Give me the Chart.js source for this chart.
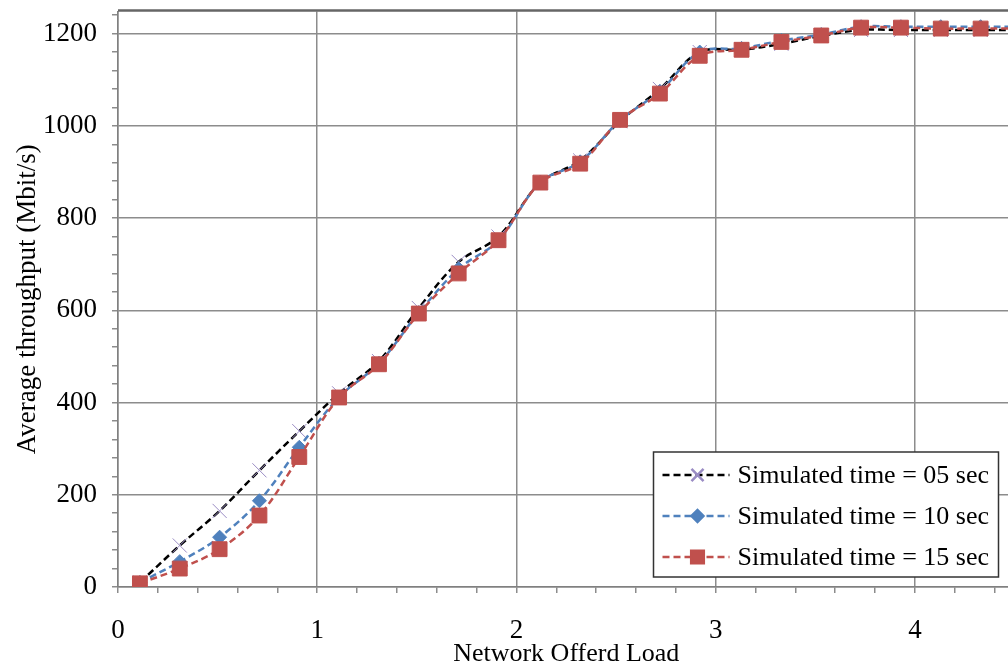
<!DOCTYPE html>
<html>
<head>
<meta charset="utf-8">
<script src="https://cdn.jsdelivr.net/npm/chart.js@4.4.0/dist/chart.umd.min.js"></script>
<style>
html, body { margin: 0; padding: 0; background: #fff; overflow: hidden; }
#wrap { width: 1026px; height: 670px; }
</style>
</head>
<body>
<div id="wrap"><canvas id="chart" width="1026" height="670"></canvas></div>
<script>
// data
const loads = [0.11, 0.31, 0.51, 0.71, 0.91, 1.11, 1.31, 1.51, 1.71, 1.91, 2.12, 2.32, 2.52, 2.72, 2.92, 3.13, 3.33, 3.53, 3.73, 3.93, 4.13, 4.33, 4.53];
const sim05 = [10, 90, 165, 253, 338, 420, 490, 605, 705, 760, 877, 925, 1010, 1080, 1160, 1165, 1178, 1195, 1208, 1208, 1208, 1208, 1208];
const sim10 = [10, 55, 108, 187, 303, 412, 485, 595, 690, 752, 878, 922, 1012, 1075, 1160, 1168, 1185, 1198, 1215, 1215, 1215, 1215, 1215];
const sim15 = [8, 40, 82, 155, 282, 411, 483, 593, 680, 752, 877, 918, 1013, 1070, 1152, 1165, 1182, 1196, 1213, 1213, 1211, 1211, 1211];
const seriesLabels = ['Simulated time = 05 sec', 'Simulated time = 10 sec', 'Simulated time = 15 sec'];
const xTickLabels = [0, 1, 2, 3, 4];
const yTickLabels = [0, 200, 400, 600, 800, 1000, 1200];

const FONT = '"Liberation Serif", "Times New Roman", serif';
const GRID = '#8c8c8c';

const toPoints = (ys) => ys.map((y, i) => ({ x: loads[i], y: y }));
const isMajorX = (v) => xTickLabels.some(t => Math.abs(t - v) < 1e-6);
const isMajorY = (v) => yTickLabels.some(t => Math.abs(t - v) < 1e-6);

// top border of the plot and the legend drawn inside the plot, bottom right
const frameAndLegend = {
    id: 'frameAndLegend',
    afterDraw(chart) {
        const ctx = chart.ctx;
        const area = chart.chartArea;
        ctx.save();
        ctx.strokeStyle = '#666';
        ctx.lineWidth = 2.5;
        ctx.beginPath();
        ctx.moveTo(area.left, area.top - 1);
        ctx.lineTo(area.right + 10, area.top - 1);
        ctx.stroke();

        const w = 345, h = 125;
        const left = area.right - 16 - w;
        const top = area.bottom - 10 - h;
        ctx.fillStyle = '#fff';
        ctx.fillRect(left, top, w, h);
        ctx.strokeStyle = '#333';
        ctx.lineWidth = 1.5;
        ctx.strokeRect(left, top, w, h);
        chart.data.datasets.forEach((ds, i) => {
            const y = top + 23 + i * 41;
            ctx.strokeStyle = ds.borderColor;
            ctx.lineWidth = ds.borderWidth;
            ctx.setLineDash(ds.borderDash);
            ctx.beginPath();
            ctx.moveTo(left + 9, y);
            ctx.lineTo(left + 76, y);
            ctx.stroke();
            ctx.setLineDash([]);
            ctx.fillStyle = ds.pointBackgroundColor;
            ctx.strokeStyle = ds.pointBorderColor;
            Chart.helpers.drawPoint(ctx, {
                pointStyle: ds.pointStyle,
                radius: ds.pointRadius * 0.85,
                rotation: 0,
                borderWidth: ds.pointBorderWidth
            }, left + 44, y);
            ctx.fillStyle = '#000';
            ctx.font = '26px ' + FONT;
            ctx.textBaseline = 'middle';
            ctx.fillText(ds.label, left + 84, y + 1);
        });
        ctx.restore();
    }
};

new Chart(document.getElementById('chart'), {
    type: 'line',
    data: {
        datasets: [{
            label: seriesLabels[0],
            data: toPoints(sim05),
            borderColor: '#000',
            borderWidth: 2.5,
            borderDash: [7, 4],
            pointStyle: 'crossRot',
            pointRadius: 10,
            pointBorderWidth: 1,
            pointBorderColor: '#9a8cc4',
            pointBackgroundColor: '#9a8cc4',
            tension: 0.35,
            order: 2
        }, {
            label: seriesLabels[1],
            data: toPoints(sim10),
            borderColor: '#4f81bd',
            borderWidth: 2.5,
            borderDash: [7, 4],
            pointStyle: 'rectRot',
            pointRadius: 7,
            pointBorderWidth: 1,
            pointBorderColor: '#4f81bd',
            pointBackgroundColor: '#4f81bd',
            tension: 0.35,
            order: 1
        }, {
            label: seriesLabels[2],
            data: toPoints(sim15),
            borderColor: '#c0504d',
            borderWidth: 2.5,
            borderDash: [7, 4],
            pointStyle: 'rect',
            pointRadius: 10.5,
            pointBorderWidth: 1,
            pointBorderColor: '#c0504d',
            pointBackgroundColor: '#c0504d',
            tension: 0.35,
            order: 0
        }]
    },
    options: {
        responsive: false,
        animation: false,
        layout: { padding: { top: 9, left: 0, right: 6, bottom: 0 } },
        plugins: {
            legend: { display: false },
            tooltip: { enabled: false }
        },
        scales: {
            x: {
                type: 'linear',
                min: 0,
                max: 4.5,
                afterFit: (scale) => { scale.height = 83; scale.paddingLeft = 0; scale.paddingRight = 0; },
                border: { color: '#808080', width: 1.5 },
                grid: {
                    color: (c) => isMajorX(c.tick.value) ? GRID : 'rgba(0,0,0,0)',
                    tickColor: GRID,
                    tickLength: 6,
                    lineWidth: 1.5
                },
                ticks: {
                    stepSize: 0.2,
                    includeBounds: false,
                    autoSkip: false,
                    maxRotation: 0,
                    padding: 22,
                    color: '#000',
                    font: { family: FONT, size: 27 },
                    callback: (v) => isMajorX(v) ? String(Math.round(v)) : ''
                },
                title: {
                    display: true,
                    text: 'Network Offerd Load',
                    color: '#000',
                    font: { family: FONT, size: 26 },
                    padding: { top: 0, bottom: 0 }
                }
            },
            y: {
                type: 'linear',
                min: 0,
                max: 1248,
                afterFit: (scale) => { scale.width = 118; scale.paddingTop = 0; scale.paddingBottom = 0; },
                border: { color: '#808080', width: 1.5 },
                grid: {
                    color: (c) => isMajorY(c.tick.value) ? GRID : 'rgba(0,0,0,0)',
                    tickColor: GRID,
                    tickLength: 6,
                    lineWidth: 1.5
                },
                ticks: {
                    stepSize: 40,
                    includeBounds: false,
                    autoSkip: false,
                    padding: 15,
                    color: '#000',
                    font: { family: FONT, size: 27 },
                    callback: (v) => isMajorY(v) ? String(v) : ''
                },
                title: {
                    display: true,
                    text: 'Average throughput (Mbit/s)',
                    color: '#000',
                    font: { family: FONT, size: 27 },
                    padding: { top: 12, bottom: 0 }
                }
            }
        }
    },
    plugins: [frameAndLegend]
});
</script>
</body>
</html>
